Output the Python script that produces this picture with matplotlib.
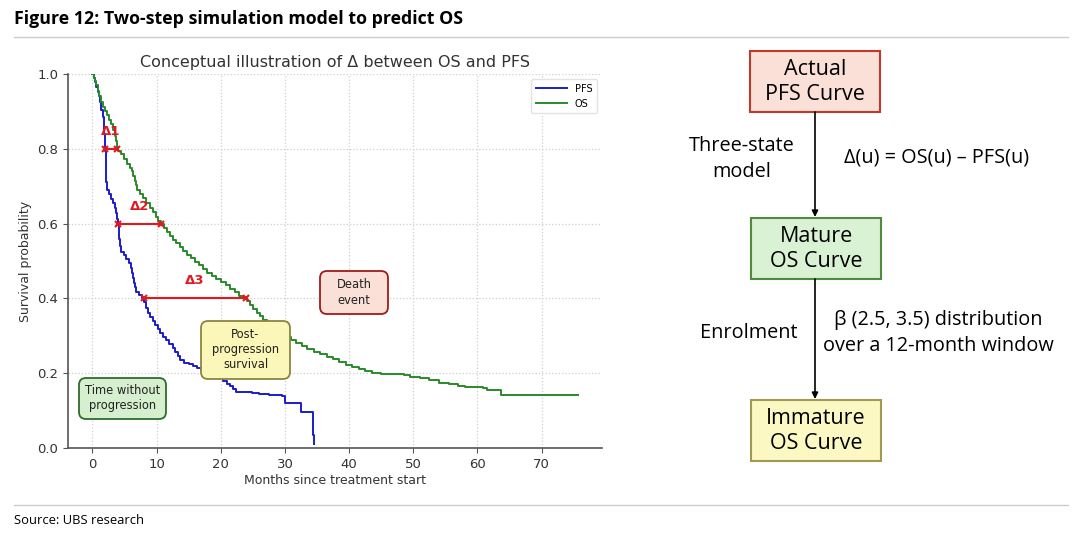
import matplotlib.pyplot as plt
from matplotlib.patches import FancyBboxPatch, Rectangle

# PFS Kaplan-Meier steps (months, survival)
pfs_t = [0, 0.2, 0.4, 0.6, 0.8, 1.0, 1.2, 1.4, 1.6, 1.75, 1.85, 1.95, 2.0, 2.05, 2.1,
         2.15, 2.3, 2.6, 2.9, 3.2, 3.5, 3.7, 3.9, 4.0, 4.1, 4.2, 4.3, 4.5, 4.9, 5.3,
         5.7, 5.95, 6.1, 6.3, 6.45, 6.6, 6.8, 7.3, 7.8, 8.1, 8.3, 8.6, 9.0, 9.4, 9.8,
         10.2, 10.6, 11.0, 11.5, 12.0, 12.5, 12.9, 13.3, 13.7, 14.3, 15.0, 15.7, 16.3,
         16.9, 17.5, 18.2, 19.0, 19.8, 20.4, 20.9, 21.4, 21.9, 22.4, 23.5, 24.8, 26.0,
         27.5, 29.6, 30.0, 32.5, 34.3, 34.45, 34.6]
pfs_s = [1.0, 0.99, 0.978, 0.965, 0.952, 0.94, 0.925, 0.905, 0.885, 0.865, 0.84, 0.815,
         0.795, 0.77, 0.74, 0.71, 0.69, 0.678, 0.665, 0.655, 0.642, 0.628, 0.612, 0.598,
         0.58, 0.56, 0.54, 0.525, 0.515, 0.505, 0.494, 0.482, 0.468, 0.455, 0.442, 0.43,
         0.418, 0.41, 0.402, 0.39, 0.375, 0.362, 0.35, 0.34, 0.33, 0.318, 0.307, 0.298,
         0.288, 0.278, 0.268, 0.257, 0.246, 0.236, 0.228, 0.224, 0.22, 0.214, 0.208,
         0.202, 0.197, 0.192, 0.186, 0.18, 0.172, 0.165, 0.158, 0.151, 0.149, 0.147,
         0.145, 0.142, 0.138, 0.121, 0.097, 0.06, 0.035, 0.012]

# OS Kaplan-Meier steps
os_t = [0, 0.2, 0.4, 0.6, 0.8, 1.0, 1.3, 1.6, 2.0, 2.3, 2.6, 2.9, 3.2, 3.5, 3.65, 3.8,
        4.0, 4.5, 5.0, 5.4, 5.8, 6.1, 6.4, 6.6, 6.8, 7.0, 7.4, 7.9, 8.4, 8.9, 9.4, 9.9,
        10.3, 10.7, 11.1, 11.6, 12.1, 12.6, 13.1, 13.6, 14.1, 14.7, 15.3, 16.0, 16.6,
        17.2, 17.9, 18.6, 19.3, 20.0, 20.8, 21.5, 22.2, 22.8, 23.4, 24.1, 24.6, 25.1,
        25.6, 26.1, 26.6, 27.2, 27.9, 28.6, 29.4, 30.2, 31.0, 31.8, 32.6, 33.5, 34.5,
        35.5, 36.5, 37.5, 38.5, 39.5, 40.5, 41.5, 42.5, 43.6, 45.0, 47.0, 48.5, 49.5,
        51.0, 52.5, 54.0, 55.5, 57.0, 58.0, 60.8, 61.5, 63.6, 75.6]
os_s = [1.0, 0.99, 0.98, 0.97, 0.955, 0.94, 0.925, 0.913, 0.902, 0.89, 0.878, 0.865,
        0.85, 0.835, 0.82, 0.805, 0.795, 0.785, 0.772, 0.76, 0.75, 0.74, 0.728, 0.715,
        0.703, 0.69, 0.68, 0.668, 0.655, 0.643, 0.63, 0.618, 0.607, 0.598, 0.588, 0.578,
        0.567, 0.557, 0.547, 0.537, 0.527, 0.517, 0.507, 0.497, 0.488, 0.478, 0.469,
        0.46, 0.452, 0.444, 0.436, 0.426, 0.416, 0.406, 0.402, 0.392, 0.382, 0.372,
        0.362, 0.352, 0.342, 0.332, 0.322, 0.313, 0.305, 0.298, 0.29, 0.281, 0.272,
        0.265, 0.258, 0.251, 0.244, 0.237, 0.229, 0.222, 0.216, 0.21, 0.205, 0.201,
        0.199, 0.198, 0.195, 0.191, 0.187, 0.181, 0.175, 0.17, 0.166, 0.163, 0.16,
        0.154, 0.143, 0.143]

# horizontal deltas between the curves
delta_names = ['Δ1', 'Δ2', 'Δ3']
delta_level = [0.8, 0.6, 0.4]
delta_pfs_t = [2.0, 4.0, 8.1]
delta_os_t = [3.8, 10.7, 23.9]

RED = '#e0191f'

fig = plt.figure(figsize=(10.8, 5.49), dpi=100)

# page layer in pixel coordinates
pg = fig.add_axes([0, 0, 1, 1])
pg.set_xlim(0, 1080)
pg.set_ylim(549, 0)
pg.axis('off')

sans = ['Open Sans', 'DejaVu Sans']
pg.text(14, 19, 'Figure 12: Two-step simulation model to predict OS', fontsize=12.8,
        fontweight='bold', family=sans, va='center', ha='left')
pg.plot([14, 1068], [37, 37], color='#cccccc', lw=1)
pg.plot([14, 1068], [505, 505], color='#cccccc', lw=1)
pg.text(14, 521, 'Source: UBS research', fontsize=9.4, family=sans, va='center', ha='left')

# flowchart boxes
boxes = [
    (750, 51, 'Actual\nPFS Curve', '#fbe0d8', '#c0392b'),
    (751, 218, 'Mature\nOS Curve', '#d9f2d3', '#4f8a3f'),
    (751, 400, 'Immature\nOS Curve', '#fbf8c4', '#a39a52'),
]
for x0, y0, label, fc, ec in boxes:
    pg.add_patch(Rectangle((x0, y0), 130, 61, facecolor=fc, edgecolor=ec, lw=1.5))
    pg.text(x0 + 65, y0 + 31, label, ha='center', va='center', fontsize=15.5,
            family=sans, linespacing=1.2)

for ya, yb in [(112, 217), (279, 399)]:
    pg.annotate('', xy=(815, yb), xytext=(815, ya),
                arrowprops=dict(arrowstyle='-|>', color='black', lw=1.2,
                                mutation_scale=9, shrinkA=0, shrinkB=0))

side = dict(ha='center', va='center', fontsize=14.3, family=sans, linespacing=1.35)
pg.text(742, 159, 'Three-state\nmodel', **side)
pg.text(937, 157, 'Δ(u) = OS(u) – PFS(u)', **side)
pg.text(749, 333, 'Enrolment', **side)
pg.text(938, 333, 'β (2.5, 3.5) distribution\nover a 12-month window', **side)

# survival chart
ax = fig.add_axes([68 / 1080, 101 / 549, 534 / 1080, 374 / 549])
ax.patch.set_alpha(0)
ax.step(pfs_t, pfs_s, where='post', color='#1c1ccc', lw=1.4, label='PFS')
ax.step(os_t, os_s, where='post', color='#2a8a2a', lw=1.4, label='OS')

for name, lvl, t1, t2 in zip(delta_names, delta_level, delta_pfs_t, delta_os_t):
    ax.plot([t1, t2], [lvl, lvl], color=RED, lw=1.5, marker='x', ms=5, mew=1.5)
    ax.text((t1 + t2) / 2, lvl + 0.047, name, color=RED, fontsize=9.5,
            fontweight='bold', ha='center', va='center')

# annotation boxes (pixel extents on the page)
notes = [
    (320, 271, 68, 43, 'Death\nevent', '#fbe0d8', '#9e1b1b'),
    (201, 321, 89, 58, 'Post-\nprogression\nsurvival', '#fbf7b8', '#8b8540'),
    (79, 378, 87, 41, 'Time without\nprogression', '#d6f0cf', '#2f6b2f'),
]
for x0, y0, w, h, txt, fc, ec in notes:
    ax.add_patch(FancyBboxPatch((x0, y0), w, h, boxstyle='round,pad=0,rounding_size=7',
                                facecolor=fc, edgecolor=ec, lw=1.3,
                                transform=pg.transData, clip_on=False, zorder=5))
    ax.text(x0 + w / 2, y0 + h / 2, txt, ha='center', va='center', fontsize=8.3,
            transform=pg.transData, zorder=6, color='#222222')

ax.set_xlim(-3.8, 79.4)
ax.set_ylim(0, 1.0)
ax.set_xticks([0, 10, 20, 30, 40, 50, 60, 70])
ax.set_yticks([0.0, 0.2, 0.4, 0.6, 0.8, 1.0])
ax.grid(True, linestyle=':', color='#cfcfcf', lw=0.9)
for s in ['top', 'right']:
    ax.spines[s].set_visible(False)
for s in ['left', 'bottom']:
    ax.spines[s].set_color('#555555')
    ax.spines[s].set_linewidth(1.2)
ax.tick_params(colors='#555555', labelcolor='#333333', labelsize=9.5)
ax.set_xlabel('Months since treatment start', fontsize=9, color='#333333', labelpad=2)
ax.set_ylabel('Survival probability', fontsize=9, color='#333333')
ax.set_title('Conceptual illustration of Δ between OS and PFS', fontsize=11.5,
             color='#333333', pad=5)
ax.legend(loc='upper right', fontsize=7, frameon=True, edgecolor='#dddddd',
          handlelength=3.2, borderpad=0.5)

fig.savefig('out.png', dpi=100)
